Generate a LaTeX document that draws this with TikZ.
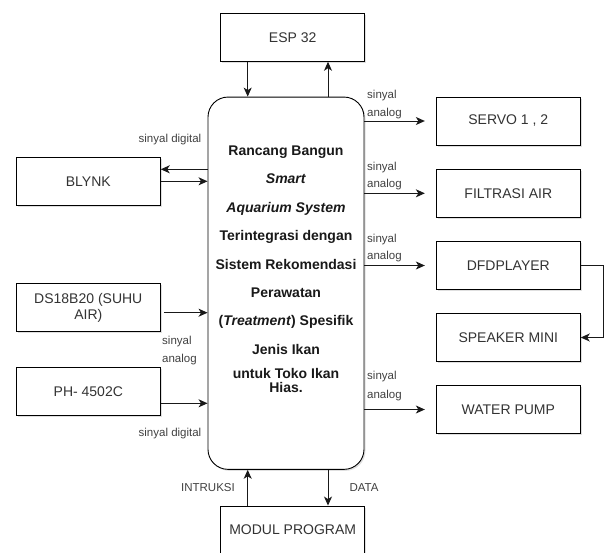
\documentclass[tikz,border=0pt]{standalone}
\usepackage{fontspec}
\setmainfont{Liberation Sans}
\usetikzlibrary{arrows.meta,shadows}
\begin{document}
\begin{tikzpicture}[x=1pt,y=-1pt,
  box/.style={draw=black, line width=0.9pt, fill=white, minimum width=144pt, minimum height=48pt,
    inner sep=0pt, font=\fontsize{14}{16}\selectfont, text=black!80, align=center,
    drop shadow={shadow xshift=1.5pt, shadow yshift=-1.5pt, opacity=0.25}},
  mainbox/.style={draw=black, line width=0.9pt, fill=white, rounded corners=20pt,
    minimum width=156pt, minimum height=372.3pt, inner sep=0pt,
    drop shadow={shadow xshift=1.5pt, shadow yshift=-1.5pt, opacity=0.25}},
  maintext/.style={font=\fontsize{14}{14}\selectfont\bfseries, text=black!90, align=center, inner sep=0pt},
  lbl/.style={font=\fontsize{11.5}{13}\selectfont, text=black!75, inner sep=0pt},
  arr/.style={-{Stealth[length=9pt,width=8pt,inset=2.5pt]}, line width=1pt, draw=black!90}]
\useasboundingbox (0,0) rectangle (608,552);

% nodes
\node[box] (esp) at (292.7,37.3) {ESP 32};
\node[mainbox] (main) at (286,283.2) {};
\node[maintext] (title) at (286,269.2) {Rancang Bangun\\[14.4pt] \textit{Smart}\\[14.4pt] \textit{Aquarium System}\\[14.4pt] Terintegrasi dengan\\[14.4pt] Sistem Rekomendasi\\[14.4pt] Perawatan\\[14.4pt] (\textit{Treatment}) Spesifik\\[14.4pt] Jenis Ikan\\[10pt] untuk Toko Ikan\\ Hias.};
\node[box] (modul) at (292.7,530) {MODUL PROGRAM};

\node[box] (servo) at (508.3,121) {SERVO 1 , 2};
\node[box] (filt) at (508.3,193.3) {FILTRASI AIR};
\node[box] (dfd) at (508.3,265.5) {DFDPLAYER};
\node[box] (spk) at (508.3,337.5) {SPEAKER MINI};
\node[box] (pump) at (508.3,409.5) {WATER PUMP};

\node[box] (blynk) at (88.3,181.3) {BLYNK};
\node[box] (ds) at (88.3,307.5) {DS18B20 (SUHU\\AIR)};
\node[box] (ph) at (88.3,391.7) {PH- 4502C};

% ESP <-> main
\coordinate (e1) at ([xshift=-45pt]esp.south);
\coordinate (e2) at ([xshift=35.3pt]esp.south);
\draw[arr] (e1) -- (e1 |- main.north);
\draw[arr] (e2 |- main.north) -- (e2);

% modul <-> main
\coordinate (m1) at ([xshift=-45pt]modul.north);
\coordinate (m2) at ([xshift=35.3pt]modul.north);
\draw[arr] (m1) -- (m1 |- main.south);
\draw[arr] (m2 |- main.south) -- (m2);
\node[lbl] (lintr) at (208,488) {INTRUKSI};
\node[lbl] (ldata) at (364,488) {DATA};

% right outputs
\foreach \n in {servo,filt,dfd,pump}{
  \draw[arr, shorten >=11pt] (main.east |- \n) -- (\n.west);
}
\node[lbl, anchor=west] (s1a) at (367,96) {sinyal};
\node[lbl, anchor=west] (s1b) at (367,114) {analog};
\node[lbl, anchor=west] (s2a) at (367,168) {sinyal};
\node[lbl, anchor=west] (s2b) at (367,185) {analog};
\node[lbl, anchor=west] (s3a) at (367,240) {sinyal};
\node[lbl, anchor=west] (s3b) at (367,257) {analog};
\node[lbl, anchor=west] (s4a) at (367,377) {sinyal};
\node[lbl, anchor=west] (s4b) at (367,396) {analog};

% DFD -> speaker
\draw[arr] (dfd.east) -- ++(23,0) |- (spk.east);

% left inputs
\coordinate (b1) at ([yshift=12pt]blynk.east);
\draw[arr] (b1 -| main.west) -- (b1);
\draw[arr] (blynk.east) -- (blynk.east -| main.west);
\coordinate (d1) at ([xshift=3pt,yshift=-5.2pt]ds.east);
\draw[arr] (d1) -- (d1 -| main.west);
\coordinate (p1) at ([yshift=-11.6pt]ph.east);
\draw[arr] (p1) -- (p1 -| main.west);

\node[lbl] (ld1) at (170,140) {sinyal digital};
\node[lbl, anchor=west] (la1) at (162,342) {sinyal};
\node[lbl, anchor=west] (la2) at (162,360) {analog};
\node[lbl] (ld2) at (170,434) {sinyal digital};
\end{tikzpicture}
\end{document}
